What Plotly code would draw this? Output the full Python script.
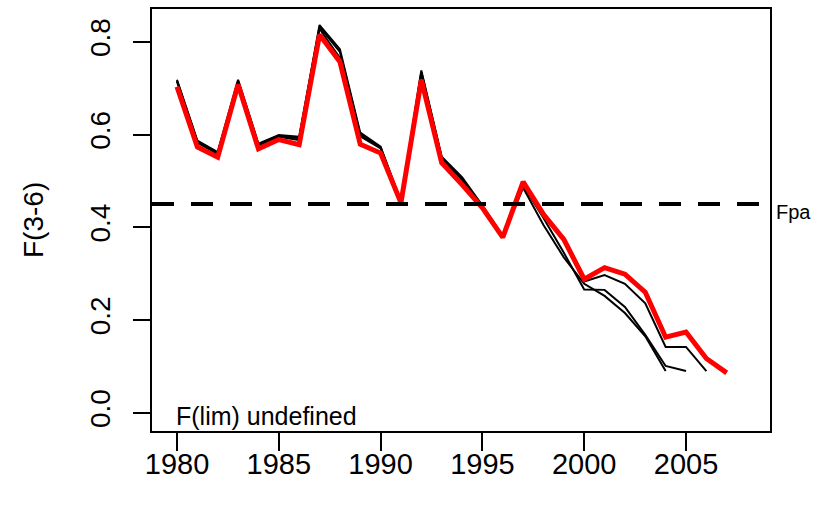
import plotly.graph_objects as go

years = list(range(1980, 2008))

# final assessment (red)
f_final = [0.703, 0.573, 0.551, 0.708, 0.569, 0.589, 0.578, 0.815, 0.757, 0.579,
           0.560, 0.453, 0.718, 0.539, 0.492, 0.442, 0.378, 0.498, 0.428, 0.374,
           0.288, 0.313, 0.299, 0.260, 0.163, 0.174, 0.117, 0.086]

# retrospective runs (black)
f_retro_2004 = [0.718, 0.587, 0.562, 0.718, 0.580, 0.599, 0.595, 0.836, 0.784, 0.604,
                0.574, 0.455, 0.738, 0.552, 0.508, 0.447, 0.380, 0.485, 0.405, 0.335,
                0.278, 0.252, 0.215, 0.165, 0.090]
f_retro_2005 = [0.716, 0.585, 0.560, 0.716, 0.578, 0.597, 0.592, 0.832, 0.778, 0.600,
                0.572, 0.455, 0.735, 0.550, 0.505, 0.446, 0.380, 0.490, 0.420, 0.345,
                0.266, 0.265, 0.228, 0.168, 0.101, 0.090]
f_retro_2006 = [0.714, 0.582, 0.558, 0.714, 0.576, 0.595, 0.588, 0.828, 0.765, 0.596,
                0.570, 0.454, 0.732, 0.547, 0.502, 0.445, 0.379, 0.495, 0.425, 0.370,
                0.283, 0.297, 0.278, 0.236, 0.142, 0.142, 0.090]

fpa = 0.45

x_ticks = [1980, 1985, 1990, 1995, 2000, 2005]
y_ticks = [0.0, 0.2, 0.4, 0.6, 0.8]
y_ticklabels = ["0.0", "0.2", "0.4", "0.6", "0.8"]

FONT = "Liberation Sans, Arial, sans-serif"

fig = go.Figure()
for series in (f_retro_2004, f_retro_2005, f_retro_2006):
    fig.add_trace(go.Scatter(x=years[:len(series)], y=series, mode="lines",
                             line=dict(color="black", width=2), showlegend=False))
fig.add_trace(go.Scatter(x=years, y=f_final, mode="lines",
                         line=dict(color="red", width=5), showlegend=False))

fig.add_shape(type="line", xref="paper", x0=0, x1=1, yref="y", y0=fpa, y1=fpa,
              line=dict(color="black", width=4, dash="22px,17px"))

fig.add_annotation(text="Fpa", xref="paper", x=1, xanchor="left", xshift=4,
                   yref="y", y=fpa, yshift=-8, yanchor="middle", showarrow=False,
                   font=dict(family=FONT, size=20, color="black"))
fig.add_annotation(text="F(lim) undefined", xref="x", x=1980, xanchor="left", xshift=-3,
                   yref="y", y=-0.007, yanchor="middle", showarrow=False,
                   font=dict(family=FONT, size=25, color="black"))
fig.add_annotation(text="F(3-6)", xref="paper", x=0, xshift=-119, xanchor="center",
                   yref="paper", y=0.5, yanchor="middle", textangle=-90, showarrow=False,
                   font=dict(family=FONT, size=28, color="black"))

fig.update_layout(
    width=828, height=508,
    margin=dict(l=152, r=58, t=7, b=77),
    paper_bgcolor="white", plot_bgcolor="white",
    font=dict(family=FONT, color="black"),
    hovermode=False,
)
fig.update_xaxes(range=[1978.772, 2009.126], tickvals=x_ticks,
                 ticks="outside", ticklen=18, tickwidth=2, tickcolor="black",
                 showline=True, linewidth=2, linecolor="black", mirror=True,
                 showgrid=False, zeroline=False, ticklabelstandoff=-12,
                 tickfont=dict(family=FONT, size=29, color="black"))
fig.update_yaxes(range=[-0.0393, 0.8706], tickvals=y_ticks, ticktext=y_ticklabels,
                 tickangle=-90,
                 ticks="outside", ticklen=17, tickwidth=2, tickcolor="black",
                 showline=True, linewidth=2, linecolor="black", mirror=True,
                 showgrid=False, zeroline=False, ticklabelstandoff=12,
                 tickfont=dict(family=FONT, size=28, color="black"))

fig.write_html("out.html", config={"displayModeBar": False},
               post_script="document.body.style.margin='0';")
